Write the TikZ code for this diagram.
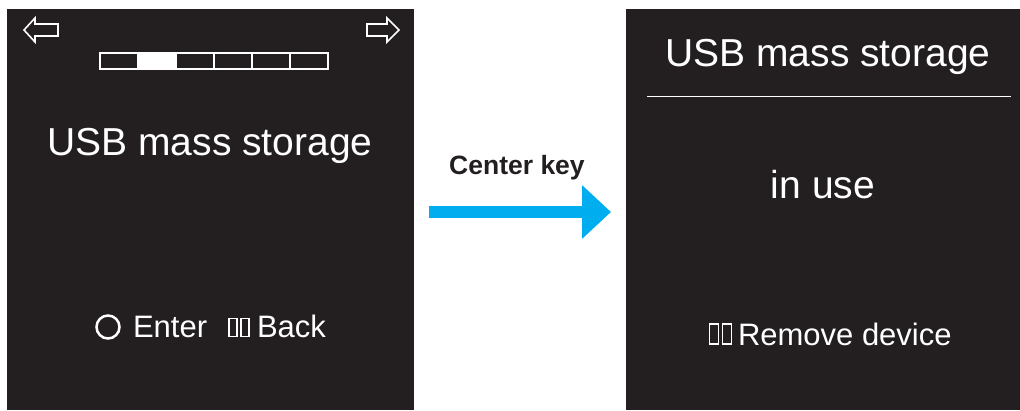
\documentclass[tikz,border=0pt]{standalone}
\usepackage{fontspec}
\setmainfont{Liberation Sans}
\usetikzlibrary{arrows.meta,positioning}
\definecolor{panel}{HTML}{231F20}
\definecolor{keyblue}{HTML}{00AEEF}

\begin{document}
\begin{tikzpicture}[x=1pt,y=-1pt,
	every node/.style={inner sep=0pt,outer sep=0pt,text=white},
	screen/.style={fill=panel,draw=none,rectangle},
	bigtext/.style={font=\fontsize{39}{39}\selectfont,anchor=base},
	smalltext/.style={font=\fontsize{31}{31}\selectfont,anchor=base west},
	keylabel/.style={font=\fontsize{26.5}{26.5}\selectfont\bfseries,text=panel,anchor=base},
	icon/.style={draw=white,line width=1.6pt,line join=miter},
	keyarrow/.style={draw=keyblue,line width=12.5pt,-{Triangle[length=29pt 0,width=52pt 0]}}]
	\useasboundingbox (0,0) rectangle (1020,410);

	\node[screen,minimum width=407pt,minimum height=401pt] (lscreen) at (210.5,209.5) {};
	\node[screen,minimum width=394pt,minimum height=401pt] (rscreen) at (823,209.5) {};

	% left screen
	\draw[icon] (24,30) -- (35,18) -- (35,24) -- (58,24) -- (58,36) -- (35,36) -- (35,42) -- cycle;
	\draw[icon] (399,30) -- (387,18) -- (387,24) -- (367,24) -- (367,36) -- (387,36) -- (387,42) -- cycle;
	\fill[white] (138,53) rectangle (176,69);
	\foreach \i in {0,...,5}
		\draw[white,line width=2pt] (100+38*\i,53) rectangle (138+38*\i,69);
	\node[bigtext] (ltitle) at (210,155) {USB mass storage};
	\draw[white,line width=2.5pt] (108,327) circle (11.5);
	\node[smalltext] (enter) at (133,337) {Enter};
	\draw[icon,line width=1.4pt] (229,318.5) rectangle (237,336.5) (241,318.5) rectangle (249,336.5);
	\node[smalltext] (back) at (257,337) {Back};

	% right screen
	\node[bigtext] (rtitle) at (828,66) {USB mass storage};
	\draw[white,line width=1pt] (647,96) -- (1011,96);
	\node[bigtext] (inuse) at (823,198) {in use};
	\draw[icon,line width=1.4pt] (709.5,324) rectangle (718.5,344) (722.5,324) rectangle (731.5,344);
	\node[smalltext] (remove) at (738,345) {Remove device};

	% key press
	\coordinate (keyfrom) at (429,212);
	\coordinate (keyto) at (611,212);
	\node[keylabel] (keytext) at (517,174) {Center key};
	\draw[keyarrow] (keyfrom) -- (keyto);
\end{tikzpicture}
\end{document}
